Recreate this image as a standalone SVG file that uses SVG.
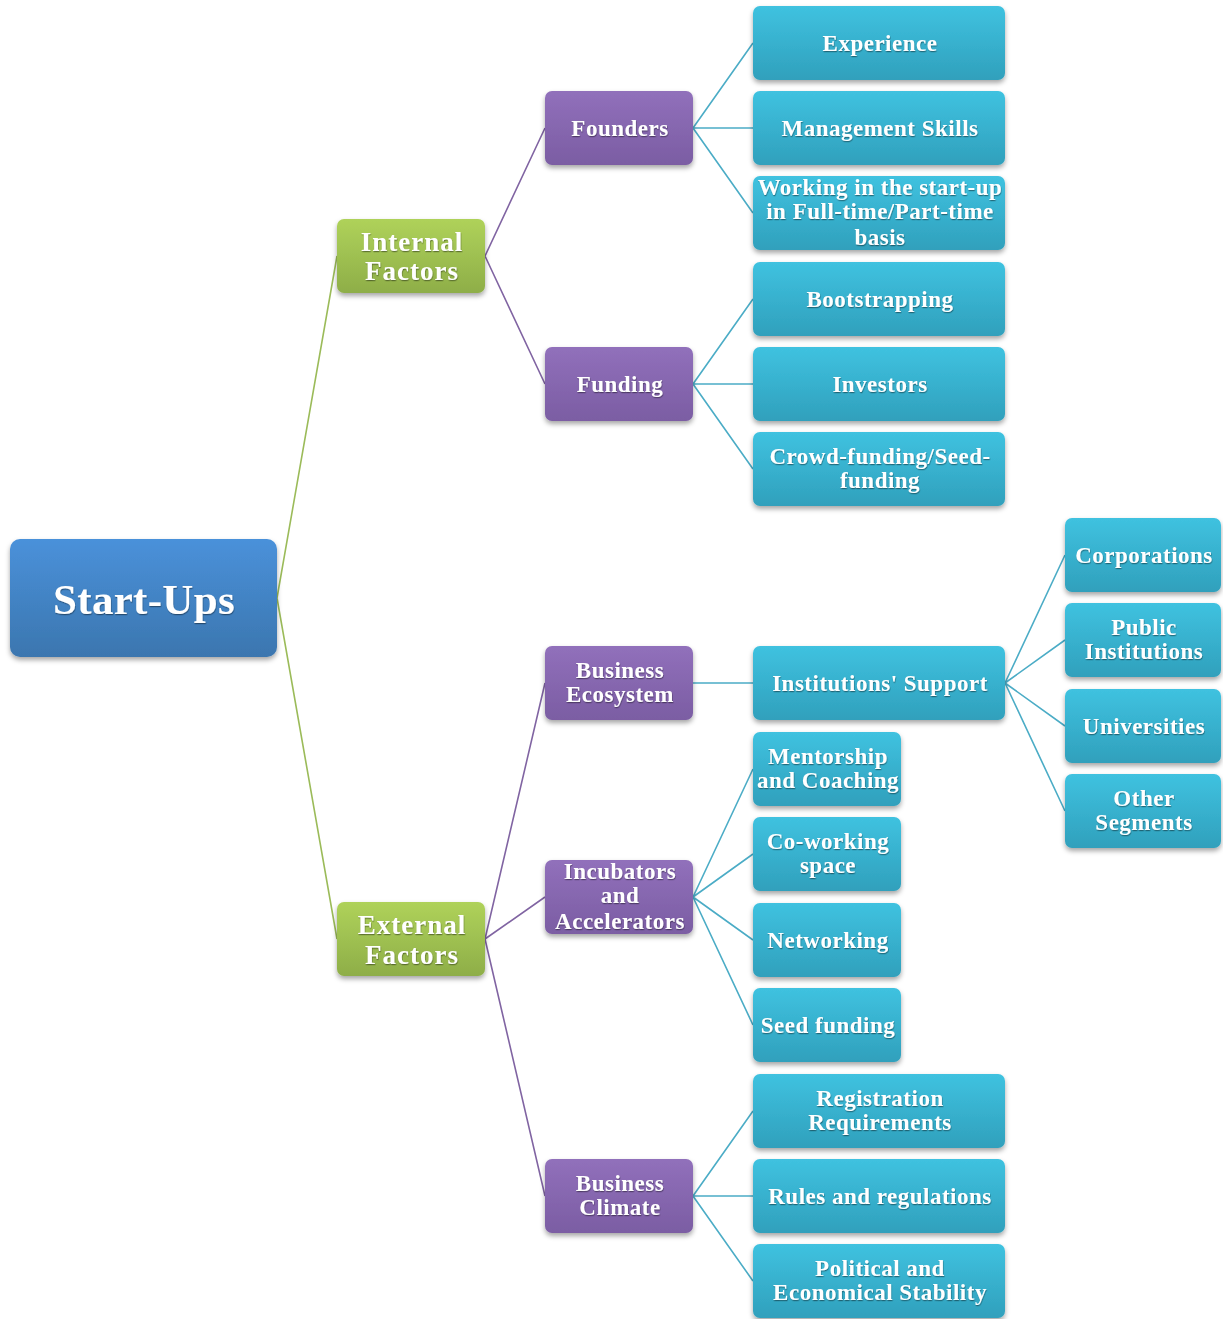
<svg xmlns="http://www.w3.org/2000/svg" width="1223" height="1319" viewBox="0 0 1223 1319">
<defs>
<linearGradient id="gBlue" x1="0" y1="0" x2="0" y2="1"><stop offset="0" stop-color="#4a91da"/><stop offset="1" stop-color="#3b76af"/></linearGradient>
<linearGradient id="gGreen" x1="0" y1="0" x2="0" y2="1"><stop offset="0" stop-color="#afd25a"/><stop offset="1" stop-color="#8eae48"/></linearGradient>
<linearGradient id="gPurple" x1="0" y1="0" x2="0" y2="1"><stop offset="0" stop-color="#9170bb"/><stop offset="1" stop-color="#7b5da3"/></linearGradient>
<linearGradient id="gCyan" x1="0" y1="0" x2="0" y2="1"><stop offset="0" stop-color="#3fc2e0"/><stop offset="1" stop-color="#30a0bc"/></linearGradient>
<filter id="sh" x="-10%" y="-20%" width="120%" height="150%"><feDropShadow dx="0" dy="3" stdDeviation="2.5" flood-color="#000" flood-opacity="0.35"/></filter>
<filter id="tsh" x="-10%" y="-20%" width="120%" height="150%"><feDropShadow dx="0.5" dy="1.2" stdDeviation="0.6" flood-color="#000" flood-opacity="0.4"/></filter>
</defs>
<style>
text{font-family:"Liberation Serif","Times New Roman",serif;font-weight:bold;fill:#fff;text-anchor:middle;filter:url(#tsh)}
.t{font-size:23px;letter-spacing:0.5px}
.m{font-size:27px;letter-spacing:1px}
.r{font-size:43px;letter-spacing:0.3px}
.box{filter:url(#sh)}
.cg{stroke:#9bbb59;stroke-width:1.6;fill:none}
.cp{stroke:#8064a2;stroke-width:1.6;fill:none}
.cc{stroke:#4bacc6;stroke-width:1.6;fill:none}
</style>
<g id="connectors">
<path class="cg" d="M277 598 L337 256 M277 598 L337 939"/>
<path class="cp" d="M485 256 L545 128 M485 256 L545 384 M485 939 L545 683 M485 939 L545 897 M485 939 L545 1196"/>
<path class="cc" d="M693 128 L753 43 M693 128 L753 128 M693 128 L753 213 M693 384 L753 299 M693 384 L753 384 M693 384 L753 469 M693 683 L753 683 M693 897 L753 769 M693 897 L753 854 M693 897 L753 940 M693 897 L753 1025 M693 1196 L753 1111 M693 1196 L753 1196 M693 1196 L753 1281 M1005 683 L1065 555 M1005 683 L1065 640 M1005 683 L1065 726 M1005 683 L1065 811"/>
</g>
<g id="n-startups"><rect class="box" x="10" y="539" width="267" height="118" rx="10" fill="url(#gBlue)"/><text class="r" x="144" y="614">Start-Ups</text></g>
<g id="n-internal"><rect class="box" x="337" y="219" width="148" height="74" rx="7" fill="url(#gGreen)"/><text class="m" x="412" y="251">Internal</text><text class="m" x="412" y="280">Factors</text></g>
<g id="n-external"><rect class="box" x="337" y="902" width="148" height="74" rx="7" fill="url(#gGreen)"/><text class="m" x="412" y="934">External</text><text class="m" x="412" y="964">Factors</text></g>
<g id="n-founders"><rect class="box" x="545" y="91" width="148" height="74" rx="7" fill="url(#gPurple)"/><text class="t" x="620" y="136">Founders</text></g>
<g id="n-funding"><rect class="box" x="545" y="347" width="148" height="74" rx="7" fill="url(#gPurple)"/><text class="t" x="620" y="392">Funding</text></g>
<g id="n-ecosystem"><rect class="box" x="545" y="646" width="148" height="74" rx="7" fill="url(#gPurple)"/><text class="t" x="620" y="678">Business</text><text class="t" x="620" y="702">Ecosystem</text></g>
<g id="n-incubators"><rect class="box" x="545" y="860" width="148" height="74" rx="7" fill="url(#gPurple)"/><text class="t" x="620" y="879">Incubators</text><text class="t" x="620" y="903">and</text><text class="t" x="620" y="929">Accelerators</text></g>
<g id="n-climate"><rect class="box" x="545" y="1159" width="148" height="74" rx="7" fill="url(#gPurple)"/><text class="t" x="620" y="1191">Business</text><text class="t" x="620" y="1215">Climate</text></g>
<g id="n-experience"><rect class="box" x="753" y="6" width="252" height="74" rx="7" fill="url(#gCyan)"/><text class="t" x="880" y="51">Experience</text></g>
<g id="n-management"><rect class="box" x="753" y="91" width="252" height="74" rx="7" fill="url(#gCyan)"/><text class="t" x="880" y="136">Management Skills</text></g>
<g id="n-working"><rect class="box" x="753" y="176" width="252" height="74" rx="7" fill="url(#gCyan)"/><text class="t" x="880" y="195">Working in the start-up</text><text class="t" x="880" y="219">in Full-time/Part-time</text><text class="t" x="880" y="245">basis</text></g>
<g id="n-bootstrapping"><rect class="box" x="753" y="262" width="252" height="74" rx="7" fill="url(#gCyan)"/><text class="t" x="880" y="307">Bootstrapping</text></g>
<g id="n-investors"><rect class="box" x="753" y="347" width="252" height="74" rx="7" fill="url(#gCyan)"/><text class="t" x="880" y="392">Investors</text></g>
<g id="n-crowd"><rect class="box" x="753" y="432" width="252" height="74" rx="7" fill="url(#gCyan)"/><text class="t" x="880" y="464">Crowd-funding/Seed-</text><text class="t" x="880" y="488">funding</text></g>
<g id="n-institutions"><rect class="box" x="753" y="646" width="252" height="74" rx="7" fill="url(#gCyan)"/><text class="t" x="880" y="691">Institutions' Support</text></g>
<g id="n-mentorship"><rect class="box" x="753" y="732" width="148" height="74" rx="7" fill="url(#gCyan)"/><text class="t" x="828" y="764">Mentorship</text><text class="t" x="828" y="788">and Coaching</text></g>
<g id="n-coworking"><rect class="box" x="753" y="817" width="148" height="74" rx="7" fill="url(#gCyan)"/><text class="t" x="828" y="849">Co-working</text><text class="t" x="828" y="873">space</text></g>
<g id="n-networking"><rect class="box" x="753" y="903" width="148" height="74" rx="7" fill="url(#gCyan)"/><text class="t" x="828" y="948">Networking</text></g>
<g id="n-seed"><rect class="box" x="753" y="988" width="148" height="74" rx="7" fill="url(#gCyan)"/><text class="t" x="828" y="1033">Seed funding</text></g>
<g id="n-registration"><rect class="box" x="753" y="1074" width="252" height="74" rx="7" fill="url(#gCyan)"/><text class="t" x="880" y="1106">Registration</text><text class="t" x="880" y="1130">Requirements</text></g>
<g id="n-rules"><rect class="box" x="753" y="1159" width="252" height="74" rx="7" fill="url(#gCyan)"/><text class="t" x="880" y="1204">Rules and regulations</text></g>
<g id="n-political"><rect class="box" x="753" y="1244" width="252" height="74" rx="7" fill="url(#gCyan)"/><text class="t" x="880" y="1276">Political and</text><text class="t" x="880" y="1300">Economical Stability</text></g>
<g id="n-corporations"><rect class="box" x="1065" y="518" width="156" height="74" rx="7" fill="url(#gCyan)"/><text class="t" x="1144" y="563">Corporations</text></g>
<g id="n-public"><rect class="box" x="1065" y="603" width="156" height="74" rx="7" fill="url(#gCyan)"/><text class="t" x="1144" y="635">Public</text><text class="t" x="1144" y="659">Institutions</text></g>
<g id="n-universities"><rect class="box" x="1065" y="689" width="156" height="74" rx="7" fill="url(#gCyan)"/><text class="t" x="1144" y="734">Universities</text></g>
<g id="n-other"><rect class="box" x="1065" y="774" width="156" height="74" rx="7" fill="url(#gCyan)"/><text class="t" x="1144" y="806">Other</text><text class="t" x="1144" y="830">Segments</text></g>
</svg>
